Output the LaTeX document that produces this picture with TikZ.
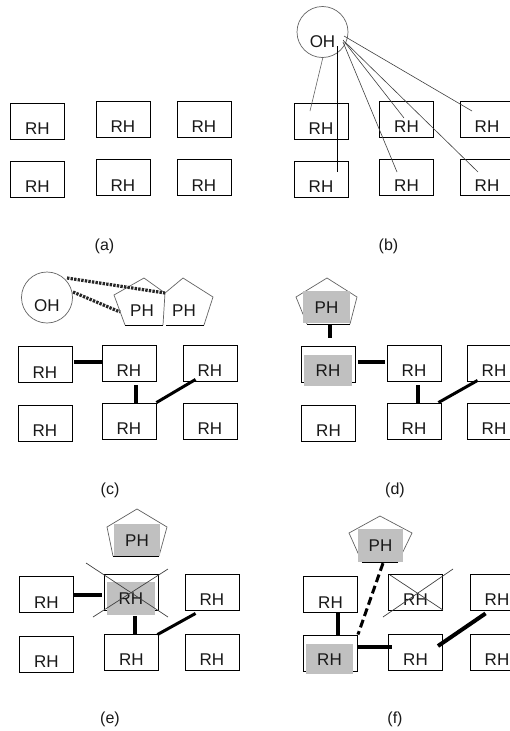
\documentclass[tikz,border=0pt]{standalone}
\usepackage{fontspec}
\setmainfont{Liberation Sans}
\definecolor{fillgray}{RGB}{192,192,192}
\definecolor{sidegray}{RGB}{100,100,100}
\definecolor{txt}{RGB}{25,25,25}
\begin{document}
\begin{tikzpicture}[x=1pt,y=-1pt,
  every node/.style={font=\fontsize{17}{19}\selectfont, text=txt},
  rh/.style={draw=black, line width=0.9pt, minimum width=54pt, minimum height=36pt, inner sep=0pt, text height=31.5pt, text depth=4.5pt},
  grayfill/.style={fill=fillgray, inner sep=0pt, text height=12pt, text depth=0pt},
  captxt/.style={inner sep=0pt, text height=12pt, text depth=0pt},
  ohc/.style={circle, draw=sidegray, line width=0.7pt, minimum size=51pt, inner sep=0pt},
  lbl/.style={inner sep=0pt, anchor=base, font=\fontsize{16}{18}\selectfont},
  pside/.style={draw=sidegray, line width=0.7pt},
  pbase/.style={draw=black, line width=0.9pt},
  thin/.style={draw=black!75, line width=0.6pt},
  bond/.style={line width=4pt},
  dbond/.style={line width=3pt},
  dots/.style={line width=3.2pt, dash pattern=on 2.4pt off 1.2pt, black!85},
  dashbond/.style={line width=3pt, dash pattern=on 8pt off 4pt},
  xline/.style={draw=black!75, line width=0.7pt}]
\clip (0,0) rectangle (510,731);
\fill[white] (0,0) rectangle (510,731);

% ---------- (a)
\node[rh] (A1) at (37.5,121) {RH};
\node[rh] (A2) at (123,119) {RH};
\node[rh] (A3) at (204,119) {RH};
\node[rh] (A4) at (37.5,179) {RH};
\node[rh] (A5) at (123,177.5) {RH};
\node[rh] (A6) at (204,177.5) {RH};
\node[lbl] (la) at (104.5,250) {(a)};

% ---------- (b)
\node[ohc, text height=33pt, text depth=3pt] (OHb) at (322.5,32) {OH};
\node[rh] (B1) at (321,121) {RH};
\node[rh] (B2) at (406.5,119) {RH};
\node[rh] (B3) at (487,119) {RH};
\node[rh] (B4) at (321,179) {RH};
\node[rh] (B5) at (406.5,177.5) {RH};
\node[rh] (B6) at (487,177.5) {RH};
\draw[draw=sidegray, line width=0.6pt] ([shift={(0.5,25)}]OHb.center) -- ([shift={(-11,-10)}]B1.center);
\draw[draw=black, line width=0.8pt] ([shift={(14.5,14)}]OHb.center) -- ([shift={(16,-7)}]B4.center);
\draw[thin] ([shift={(21.5,4)}]OHb.center) -- ([shift={(-15,-8)}]B3.center);
\draw[thin] ([shift={(20.5,8)}]OHb.center) -- ([shift={(-2.5,-1)}]B2.center);
\draw[thin] ([shift={(20.5,10)}]OHb.center) -- ([shift={(-9.5,-5.5)}]B5.center);
\draw[thin] ([shift={(22.5,10)}]OHb.center) -- ([shift={(-9,-5.5)}]B6.center);
\node[lbl] (lb) at (388.5,250) {(b)};

% ---------- (c)
\node[ohc, text height=30pt, text depth=3pt] (OHc) at (47,297.5) {OH};
\draw[pside] (165,293) -- (144,278) -- (114,295) -- (125,325);
\draw[pbase] (125,325) -- (163,325);
\draw[pside] (163,325) -- (165,293);
\draw[pside] (165,293) -- (183,278) -- (213,297) -- (204,325);
\draw[pbase] (204,325) -- (166,325);
\node[captxt] (PHc1) at (142,310) {PH};
\node[captxt] (PHc2) at (184,310) {PH};
\draw[dots] ([shift={(20,-19.5)}]OHc.center) -- ([shift={(-19,-17)}]PHc2.center);
\draw[dots] ([shift={(26,-5.5)}]OHc.center) -- ([shift={(-22,2)}]PHc1.center);
\node[rh] (C1) at (45,364.5) {RH};
\node[rh] (C2) at (129,363) {RH};
\node[rh] (C3) at (210,363) {RH};
\node[rh] (C4) at (45,423) {RH};
\node[rh] (C5) at (129,421) {RH};
\node[rh] (C6) at (210,421) {RH};
\draw[bond] ([shift={(2,-2.5)}]C1.east) -- ([shift={(0,-1)}]C2.west);
\draw[bond] ([shift={(7,4)}]C2.south) -- ([shift={(7,0)}]C5.north);
\draw[dbond] (C5.north east) -- ([shift={(13,-2)}]C3.south west);
\node[lbl] (lc) at (110,494) {(c)};

% ---------- (d)
\begin{scope}[shift={(327,278)}]
\draw[pside] (-20,46) -- (-31,19) -- (0,0) -- (30,19) -- (23,46);
\draw[pbase] (-20,46) -- (23,46);
\end{scope}
\node[grayfill, minimum width=47pt, minimum height=32pt] (Pd) at (326.5,307) {PH};
\node[rh] (D1) at (328.5,364.5) {};
\node[grayfill, minimum width=48pt, minimum height=31pt] (D1g) at (328,370.5) {RH};
\node[rh] (D2) at (414,363) {RH};
\node[rh] (D3) at (494,363) {RH};
\node[rh] (D4) at (328.5,423) {RH};
\node[rh] (D5) at (414,421) {RH};
\node[rh] (D6) at (494,421) {RH};
\draw[bond] ([shift={(3.5,2)}]Pd.south) -- ([shift={(1.5,-8.5)}]D1.north);
\draw[bond] ([shift={(2,-2.5)}]D1.east) -- ([shift={(-2,-1)}]D2.west);
\draw[bond] ([shift={(4,4)}]D2.south) -- ([shift={(4,0)}]D5.north);
\draw[dbond] ([shift={(-3,0)}]D5.north east) -- ([shift={(11,-1)}]D3.south west);
\node[lbl] (ld) at (395,494) {(d)};

% ---------- (e)
\begin{scope}[shift={(137,509)}]
\draw[pside] (-24,47) -- (-30,18) -- (0,0) -- (30,18) -- (22,47);
\draw[pbase] (-24,47) -- (22,47);
\end{scope}
\node[grayfill, minimum width=46pt, minimum height=32pt] (Pe) at (137,540) {PH};
\node[rh] (E1) at (46.5,594.5) {RH};
\node[rh] (E2) at (131.5,592) {};
\node[grayfill, minimum width=48pt, minimum height=33pt] (E2g) at (131,598.5) {RH};
\draw[xline] ([shift={(-45.5,-29)}]E2.center) -- ([shift={(36.5,25)}]E2.center);
\draw[xline] ([shift={(-38.5,25)}]E2.center) -- ([shift={(36.5,-23)}]E2.center);
\node[rh] (E3) at (212,592) {RH};
\node[rh] (E4) at (46.5,654) {RH};
\node[rh] (E5) at (131.5,652) {RH};
\node[rh] (E6) at (212,652) {RH};
\draw[bond] (E1.east) -- ([shift={(-2,2.5)}]E2.west);
\draw[bond] ([shift={(3.5,6)}]E2.south) -- ([shift={(3.5,0)}]E5.north);
\draw[dbond] ([shift={(-1.5,1)}]E5.north east) -- ([shift={(11,3)}]E3.south west);
\node[lbl] (le) at (110,723) {(e)};

% ---------- (f)
\begin{scope}[shift={(380,516)}]
\draw[pside] (-18,46) -- (-31,17) -- (0,0) -- (32,17) -- (18,46);
\draw[pbase] (-18,46) -- (18,46);
\end{scope}
\node[grayfill, minimum width=45pt, minimum height=33pt] (Pf) at (380.5,545.5) {PH};
\node[rh] (F1) at (330.5,594.5) {RH};
\node[rh] (F2) at (415.5,592) {RH};
\draw[xline] ([shift={(-25.5,-17)}]F2.center) -- ([shift={(27.5,18)}]F2.center);
\draw[xline] ([shift={(-32.5,25)}]F2.center) -- ([shift={(37.5,-23)}]F2.center);
\node[rh] (F3) at (497,592) {RH};
\node[rh] (F4) at (330.5,653) {};
\node[grayfill, minimum width=47pt, minimum height=30pt] (F4g) at (329.5,659) {RH};
\node[rh] (F5) at (415.5,652) {RH};
\node[rh] (F6) at (497,652) {RH};
\draw[line width=3.5pt] ([shift={(7.5,0)}]F1.south) -- ([shift={(7.5,0)}]F4.north);
\draw[bond] ([shift={(0,-6)}]F4.east) -- ([shift={(3.5,-5)}]F5.west);
\draw[bond] ([shift={(22.5,-6)}]F5.center) -- ([shift={(16,3)}]F3.south west);
\draw[dashbond] ([shift={(2.5,1)}]Pf.south) -- (F4.north east);
\node[lbl] (lf) at (395,723) {(f)};
\end{tikzpicture}
\end{document}
